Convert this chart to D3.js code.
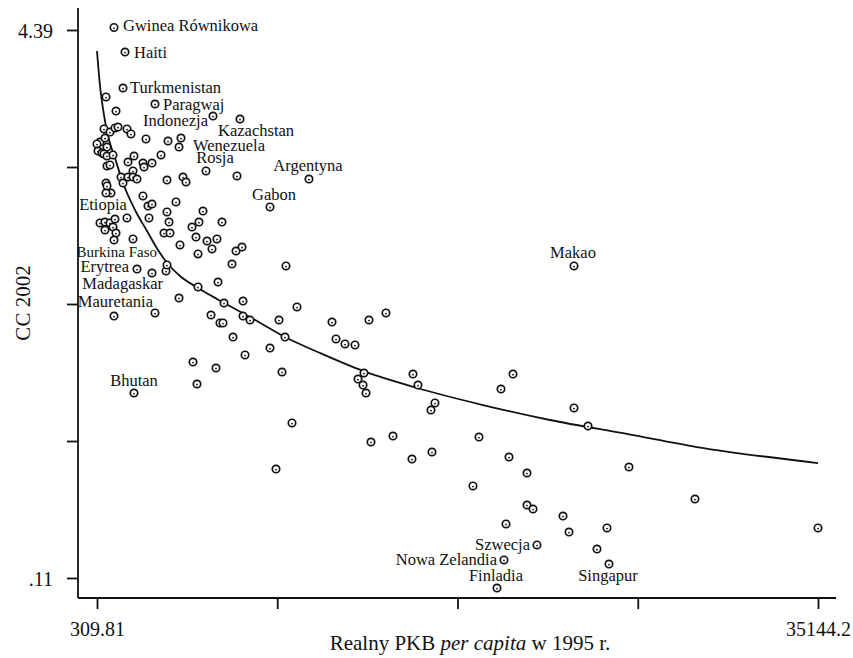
<!DOCTYPE html>
<html>
<head>
<meta charset="utf-8">
<script src="https://cdn.jsdelivr.net/npm/d3@7"></script>
<style>
  body { margin: 0; background: #fff; }
  svg { display: block; }
  text { font-family: "Liberation Serif", "Times New Roman", serif; fill: #111; }
</style>
</head>
<body>
<svg id="chart" width="853" height="658"></svg>
<script>
// Real GDP per capita 1995 (x) vs CC 2002 (y)

// unlabelled countries: [gdp, cc]
const points = [
  [745, 3.867], [1228, 3.757], [648, 3.617], [938, 3.593], [1179, 3.625], [1324, 3.632],
  [1759, 3.617], [1952, 3.578], [455, 3.515], [310, 3.500], [358, 3.445], [696, 3.546],
  [793, 3.476], [551, 3.429], [648, 3.422], [793, 3.406], [1083, 3.414], [2677, 3.539],
  [3740, 3.523], [4368, 3.546], [793, 3.328], [938, 3.336], [1808, 3.359], [2097, 3.406],
  [2532, 3.351], [2581, 3.320], [2967, 3.351], [3402, 3.414], [7074, 3.250], [1469, 3.242],
  [1808, 3.242], [2049, 3.289], [2049, 3.242], [2242, 3.226], [1566, 3.195], [3692, 3.218],
  [4465, 3.242], [4610, 3.203], [745, 3.195], [793, 3.172], [986, 3.117], [2532, 3.094],
  [2774, 3.015], [2967, 3.031], [4127, 3.047], [3692, 2.969], [5431, 2.976], [455, 2.883],
  [696, 2.890], [696, 2.828], [938, 2.883], [1179, 2.914], [1083, 2.851], [1228, 2.804],
  [1131, 2.750], [1759, 2.922], [2049, 2.758], [2822, 2.922], [3789, 2.890], [3547, 2.804],
  [3837, 2.804], [4900, 2.851], [5238, 2.890], [6349, 2.890], [5093, 2.773], [5624, 2.742],
  [6107, 2.758], [4320, 2.711], [5190, 2.641], [5866, 2.680], [7026, 2.664], [7316, 2.695],
  [6832, 2.562], [9441, 2.547], [3644, 2.508], [5190, 2.383], [6156, 2.422], [4272, 2.297],
  [6446, 2.258], [7364, 2.273], [9973, 2.227], [1131, 2.156], [5818, 2.164], [6252, 2.102],
  [6397, 2.102], [7364, 2.156], [7702, 2.125], [9103, 2.125], [6881, 1.992], [9393, 1.992],
  [8668, 1.906], [7461, 1.852], [4948, 1.797], [6059, 1.750], [9248, 1.719], [5141, 1.625],
  [11664, 2.109], [13451, 2.125], [14272, 2.180], [11857, 1.977], [12292, 1.938], [12775, 1.930],
  [13210, 1.711], [12920, 1.664], [13161, 1.617], [13306, 1.555], [15576, 1.703], [15818, 1.617],
  [16639, 1.477], [16446, 1.422], [20408, 1.703], [19828, 1.586], [9731, 1.321], [8958, 0.961],
  [13547, 1.172], [14610, 1.219], [15528, 1.039], [16494, 1.094], [18765, 1.211], [20215, 1.055],
  [21085, 0.930], [18475, 0.829], [21085, 0.680], [21375, 0.649], [20070, 0.532], [23356, 1.438],
  [24032, 1.297], [26012, 0.977], [29201, 0.727], [22824, 0.594], [23114, 0.469], [24950, 0.501],
  [35144.2, 0.501], [24466, 0.336]
];

// labelled countries: [name, gdp, cc]
const labeled = [
  ["Gwinea Równikowa", 1131, 4.41],
  ["Haiti", 1663, 4.218],
  ["Turkmenistan", 1566, 3.937],
  ["Paragwaj", 3112, 3.812],
  ["Indonezja", 5914, 3.718],
  ["Kazachstan", 7219, 3.695],
  ["Wenezuela", 4272, 3.476],
  ["Rosja", 5576, 3.289],
  ["Argentyna", 10552, 3.226],
  ["Gabon", 8668, 3.008],
  ["Etiopia", 745, 3.117],
  ["Burkina Faso", 3692, 2.555],
  ["Erytrea", 2242, 2.523],
  ["Madagaskar", 2967, 2.492],
  ["Mauretania", 3112, 2.180],
  ["Bhutan", 2097, 1.555],
  ["Makao", 23356, 2.547],
  ["Szwecja", 21568, 0.368],
  ["Nowa Zelandia", 19973, 0.251],
  ["Finladia", 19635, 0.032],
  ["Singapur", 25046, 0.219]
];

// fitted curve: [gdp, cc]
const fitLine = [
  [309.81, 4.226], [455, 3.953], [648, 3.726], [841, 3.562], [1179, 3.390], [1566, 3.195],
  [2146, 2.984], [2726, 2.820], [3257, 2.672], [3740, 2.562], [4320, 2.469], [5190, 2.375],
  [6107, 2.289], [7074, 2.203], [8040, 2.117], [9393, 1.992], [11084, 1.867], [13161, 1.727],
  [15770, 1.594], [18959, 1.461], [22196, 1.344], [25916, 1.235], [29298, 1.133], [35144.2, 1.008]
];

const xTicks = [309.81, 9018.4, 17727.0, 26435.6, 35144.2];
const xTickLabels = ["309.81", "", "", "", "35144.2"];
const yTicks = [0.11, 1.18, 2.25, 3.32, 4.39];
const yTickLabels = [".11", "", "", "", "4.39"];

// label placement: anchor, dx, dy (pixels from the marker), font size
const labelPos = {
  "Gwinea Równikowa": ["start", 9, 4, 16.5],
  "Haiti": ["start", 9, 6, 16.5],
  "Turkmenistan": ["start", 7, 5, 16.5],
  "Paragwaj": ["start", 8, 6, 16.5],
  "Indonezja": ["end", -5, 10, 16.5],
  "Kazachstan": ["start", -22, 17, 16.5],
  "Wenezuela": ["start", 14, 4, 16.5],
  "Rosja": ["middle", 9, -8, 16.5],
  "Argentyna": ["middle", -1, -8, 16.5],
  "Gabon": ["middle", 4, -7, 16.5],
  "Etiopia": ["middle", -3, 17, 16.5],
  "Burkina Faso": ["end", -10, -8, 15],
  "Erytrea": ["end", -8, 3, 16.5],
  "Madagaskar": ["end", 11, 16, 16.5],
  "Mauretania": ["end", -2, -6, 16.5],
  "Bhutan": ["middle", 0, -7, 16.5],
  "Makao": ["middle", -1, -8, 16.5],
  "Szwecja": ["end", -7, 5, 16.5],
  "Nowa Zelandia": ["end", -7, 5, 16.5],
  "Finladia": ["middle", -1, -7, 16.5],
  "Singapur": ["middle", -1, 17, 16.5]
};

const INK = "#111";
const box = { left: 78, right: 836, top: 8, bottom: 598 };

const svg = d3.select("#chart");

const x = d3.scaleLinear().domain([309.81, 35144.2]).range([97, 818]);
const y = d3.scaleLinear().domain([0.11, 4.39]).range([578, 30]);

// Axes
const yAxis = d3.axisLeft(y)
  .tickValues(yTicks)
  .tickSize(11)
  .tickSizeOuter(0)
  .tickPadding(14)
  .tickFormat((d, i) => yTickLabels[i]);

const gy = svg.append("g")
  .attr("transform", `translate(${box.left},0)`)
  .call(yAxis);
gy.select(".domain").remove();
gy.selectAll(".tick line").attr("stroke", INK).attr("stroke-width", 1.8);
gy.selectAll(".tick text")
  .attr("font-family", "Liberation Serif, Times New Roman, serif")
  .style("font-size", "20px")
  .attr("fill", INK)
  .attr("dy", "0.36em");

const xAxis = d3.axisBottom(x)
  .tickValues(xTicks)
  .tickSize(11)
  .tickSizeOuter(0)
  .tickPadding(13)
  .tickFormat((d, i) => xTickLabels[i]);

const gx = svg.append("g")
  .attr("transform", `translate(0,${box.bottom})`)
  .call(xAxis);
gx.select(".domain").remove();
gx.selectAll(".tick line").attr("stroke", INK).attr("stroke-width", 1.8);
gx.selectAll(".tick text")
  .attr("font-family", "Liberation Serif, Times New Roman, serif")
  .style("font-size", "20px")
  .attr("fill", INK);

// axis lines
svg.append("line")
  .attr("x1", box.left).attr("x2", box.left)
  .attr("y1", box.top).attr("y2", box.bottom)
  .attr("stroke", INK).attr("stroke-width", 1.8);
svg.append("line")
  .attr("x1", box.left).attr("x2", box.right)
  .attr("y1", box.bottom).attr("y2", box.bottom)
  .attr("stroke", INK).attr("stroke-width", 1.8);

// axis titles
svg.append("text")
  .attr("transform", `translate(30,${(box.top + box.bottom) / 2}) rotate(-90)`)
  .attr("text-anchor", "middle")
  .style("font-size", "21px")
  .text("CC 2002");

const xt = svg.append("text")
  .attr("x", 470)
  .attr("y", 650)
  .attr("text-anchor", "middle")
  .style("font-size", "21px");
xt.append("tspan").text("Realny PKB ");
xt.append("tspan").attr("font-style", "italic").text("per capita");
xt.append("tspan").text(" w 1995 r.");

// fitted curve
const line = d3.line()
  .x(d => x(d[0]))
  .y(d => y(d[1]))
  .curve(d3.curveMonotoneX);

svg.append("path")
  .datum(fitLine)
  .attr("fill", "none")
  .attr("stroke", INK)
  .attr("stroke-width", 1.8)
  .attr("d", line);

// markers
const allPts = points.map(d => ({ gdp: d[0], cc: d[1] }))
  .concat(labeled.map(d => ({ name: d[0], gdp: d[1], cc: d[2] })));

const marks = svg.append("g")
  .selectAll("g")
  .data(allPts)
  .join("g")
  .attr("transform", d => `translate(${x(d.gdp)},${y(d.cc)})`);

marks.append("circle")
  .attr("r", 3.7)
  .attr("fill", "#fff")
  .attr("stroke", INK)
  .attr("stroke-width", 1.7);

marks.append("circle")
  .attr("r", 0.9)
  .attr("cy", 0.6)
  .attr("fill", INK);

// country labels
svg.append("g")
  .selectAll("text")
  .data(labeled)
  .join("text")
  .attr("x", d => x(d[1]) + labelPos[d[0]][1])
  .attr("y", d => y(d[2]) + labelPos[d[0]][2])
  .attr("text-anchor", d => labelPos[d[0]][0])
  .style("font-size", d => labelPos[d[0]][3] + "px")
  .text(d => d[0]);
</script>
</body>
</html>
